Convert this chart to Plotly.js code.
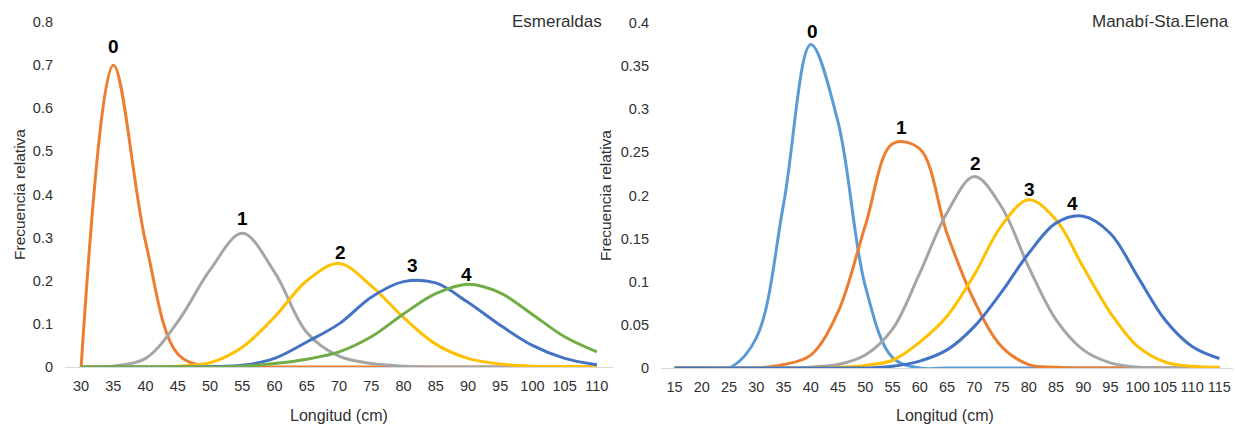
<!DOCTYPE html>
<html>
<head>
<meta charset="utf-8">
<script src="https://cdn.plot.ly/plotly-3.0.1.min.js"></script>
<style>
  html, body { margin: 0; padding: 0; background: #ffffff; }
  #chart { width: 1235px; height: 428px; }
</style>
</head>
<body>
<div id="chart"></div>
<script>
// Length classes (cm) for each region
const lengthsEsm = [30, 35, 40, 45, 50, 55, 60, 65, 70, 75, 80, 85, 90, 95, 100, 105, 110];
const lengthsMan = [15, 20, 25, 30, 35, 40, 45, 50, 55, 60, 65, 70, 75, 80, 85, 90, 95, 100, 105, 110, 115];

// Relative frequency by age group – Esmeraldas
const esmAge0 = [0, 0.70, 0.29, 0.03, 0, 0, 0, 0, 0, 0, 0, 0, 0, 0, 0, 0, 0];
const esmAge1 = [0, 0.002, 0.02, 0.105, 0.225, 0.31, 0.22, 0.08, 0.025, 0.008, 0.002, 0, 0, 0, 0, 0, 0];
const esmAge2 = [0, 0, 0, 0.002, 0.01, 0.046, 0.116, 0.20, 0.24, 0.188, 0.115, 0.053, 0.02, 0.007, 0.002, 0.001, 0];
const esmAge3 = [0, 0, 0, 0, 0.001, 0.004, 0.02, 0.058, 0.10, 0.162, 0.198, 0.195, 0.15, 0.097, 0.05, 0.02, 0.005];
const esmAge4 = [0, 0, 0, 0, 0, 0.002, 0.008, 0.018, 0.035, 0.07, 0.123, 0.17, 0.192, 0.172, 0.122, 0.07, 0.035];

// Relative frequency by age group – Manabí-Sta.Elena
const manAge0 = [0, 0, 0, 0.035, 0.19, 0.375, 0.285, 0.095, 0.012, 0, 0, 0, 0, 0, 0, 0, 0, 0, 0, 0, 0];
const manAge1 = [0, 0, 0, 0, 0.004, 0.015, 0.065, 0.165, 0.26, 0.254, 0.156, 0.078, 0.025, 0.004, 0.001, 0, 0, 0, 0, 0, 0];
const manAge2 = [0, 0, 0, 0, 0, 0.001, 0.004, 0.015, 0.045, 0.11, 0.18, 0.222, 0.187, 0.117, 0.056, 0.021, 0.006, 0.001, 0, 0, 0];
const manAge3 = [0, 0, 0, 0, 0, 0, 0.001, 0.003, 0.009, 0.03, 0.06, 0.108, 0.165, 0.195, 0.172, 0.117, 0.064, 0.025, 0.007, 0.002, 0.001];
const manAge4 = [0, 0, 0, 0, 0, 0, 0, 0, 0.002, 0.008, 0.021, 0.048, 0.088, 0.133, 0.168, 0.176, 0.156, 0.106, 0.056, 0.025, 0.011];

const ageLabels = ['0', '1', '2', '3', '4'];
const yTicksEsm = [0, 0.1, 0.2, 0.3, 0.4, 0.5, 0.6, 0.7, 0.8];
const yTicksMan = [0, 0.05, 0.1, 0.15, 0.2, 0.25, 0.3, 0.35, 0.4];

const ORANGE = '#ED7D31', GRAY = '#A5A5A5', GOLD = '#FFC000',
      BLUE = '#4472C4', GREEN = '#70AD47', SKY = '#5B9BD5';

const esmSeries = [esmAge0, esmAge1, esmAge2, esmAge3, esmAge4];
const esmColors = [ORANGE, GRAY, GOLD, BLUE, GREEN];
const manSeries = [manAge0, manAge1, manAge2, manAge3, manAge4];
const manColors = [SKY, ORANGE, GRAY, GOLD, BLUE];

const FONT = 'Liberation Sans, Arial, sans-serif';
const TEXT = '#303030';

const traces = [];
esmSeries.forEach((ys, i) => traces.push({
  x: lengthsEsm, y: ys, xaxis: 'x', yaxis: 'y', type: 'scatter', mode: 'lines',
  name: ageLabels[i], line: { color: esmColors[i], width: 3, shape: 'spline', smoothing: 1 },
  hoverinfo: 'x+y'
}));
manSeries.forEach((ys, i) => traces.push({
  x: lengthsMan, y: ys, xaxis: 'x2', yaxis: 'y2', type: 'scatter', mode: 'lines',
  name: ageLabels[i], line: { color: manColors[i], width: 3, shape: 'spline', smoothing: 1 },
  hoverinfo: 'x+y'
}));

// Age label above each curve's maximum
function peakLabels(xs, series, xref, yref, nudges) {
  return series.map((ys, i) => {
    let k = 0;
    ys.forEach((v, j) => { if (v > ys[k]) k = j; });
    return {
      x: xs[k], y: ys[k], xref: xref, yref: yref, text: '<b>' + ageLabels[i] + '</b>',
      showarrow: false, yanchor: 'middle', xanchor: 'center',
      yshift: nudges[i][1], xshift: nudges[i][0],
      font: { family: FONT, size: 19, color: '#000000' }
    };
  });
}

const annotations = [].concat(
  peakLabels(lengthsEsm, esmSeries, 'x', 'y', [[0, 19], [0, 15], [1, 11], [9, 16], [-1, 10]]),
  peakLabels(lengthsMan, manSeries, 'x2', 'y2', [[2, 13], [9, 16], [1, 13], [1, 10], [-11, 13]]),
  [
    { text: 'Esmeraldas', x: 604 / 1235, y: 1 - 22 / 428, xref: 'paper', yref: 'paper',
      xanchor: 'right', yanchor: 'middle', showarrow: false, font: { family: FONT, size: 17, color: TEXT } },
    { text: 'Manabí-Sta.Elena', x: 1231 / 1235, y: 1 - 22 / 428, xref: 'paper', yref: 'paper',
      xanchor: 'right', yanchor: 'middle', showarrow: false, font: { family: FONT, size: 17, color: TEXT } },
    { text: 'Longitud (cm)', x: 339 / 1235, y: 1 - 415 / 428, xref: 'paper', yref: 'paper',
      xanchor: 'center', yanchor: 'middle', showarrow: false, font: { family: FONT, size: 16, color: TEXT } },
    { text: 'Longitud (cm)', x: 945 / 1235, y: 1 - 415 / 428, xref: 'paper', yref: 'paper',
      xanchor: 'center', yanchor: 'middle', showarrow: false, font: { family: FONT, size: 16, color: TEXT } },
    { text: 'Frecuencia relativa', x: 19 / 1235, y: 1 - 195 / 428, xref: 'paper', yref: 'paper',
      xanchor: 'center', yanchor: 'middle', textangle: -90, showarrow: false, font: { family: FONT, size: 15.5, color: TEXT } },
    { text: 'Frecuencia relativa', x: 606 / 1235, y: 1 - 196 / 428, xref: 'paper', yref: 'paper',
      xanchor: 'center', yanchor: 'middle', textangle: -90, showarrow: false, font: { family: FONT, size: 15.5, color: TEXT } }
  ]
);

const tickFont = { family: FONT, size: 14.5, color: TEXT };
const xCommon = {
  showgrid: false, zeroline: false, showline: true, linecolor: '#D9D9D9', linewidth: 1,
  ticks: '', tickfont: tickFont, tickangle: 0, ticklabelstandoff: 6, fixedrange: true
};
const yCommon = {
  showgrid: false, zeroline: false, showline: false, ticks: '', tickfont: tickFont,
  ticklabelstandoff: 11, fixedrange: true
};

const layout = {
  width: 1235, height: 428,
  margin: { l: 0, r: 0, t: 0, b: 0 },
  paper_bgcolor: '#ffffff', plot_bgcolor: '#ffffff',
  showlegend: false,
  font: { family: FONT, color: TEXT },
  xaxis: Object.assign({}, xCommon, {
    domain: [65 / 1235, 613 / 1235], range: [27.5, 112.5],
    tickvals: lengthsEsm, ticktext: lengthsEsm.map(String), anchor: 'y'
  }),
  yaxis: Object.assign({}, yCommon, {
    domain: [1 - 367 / 428, 1 - 22 / 428], range: [0, 0.8], tickvals: yTicksEsm,
    ticktext: yTicksEsm.map(String), anchor: 'x'
  }),
  xaxis2: Object.assign({}, xCommon, {
    domain: [661 / 1235, 1233 / 1235], range: [12.5, 117.5],
    tickvals: lengthsMan, ticktext: lengthsMan.map(String), anchor: 'y2'
  }),
  yaxis2: Object.assign({}, yCommon, {
    domain: [1 - 368 / 428, 1 - 23 / 428], range: [0, 0.4], tickvals: yTicksMan,
    ticktext: yTicksMan.map(String), anchor: 'x2'
  }),
  annotations: annotations
};

Plotly.newPlot('chart', traces, layout, { displayModeBar: false, staticPlot: true });
</script>
</body>
</html>
